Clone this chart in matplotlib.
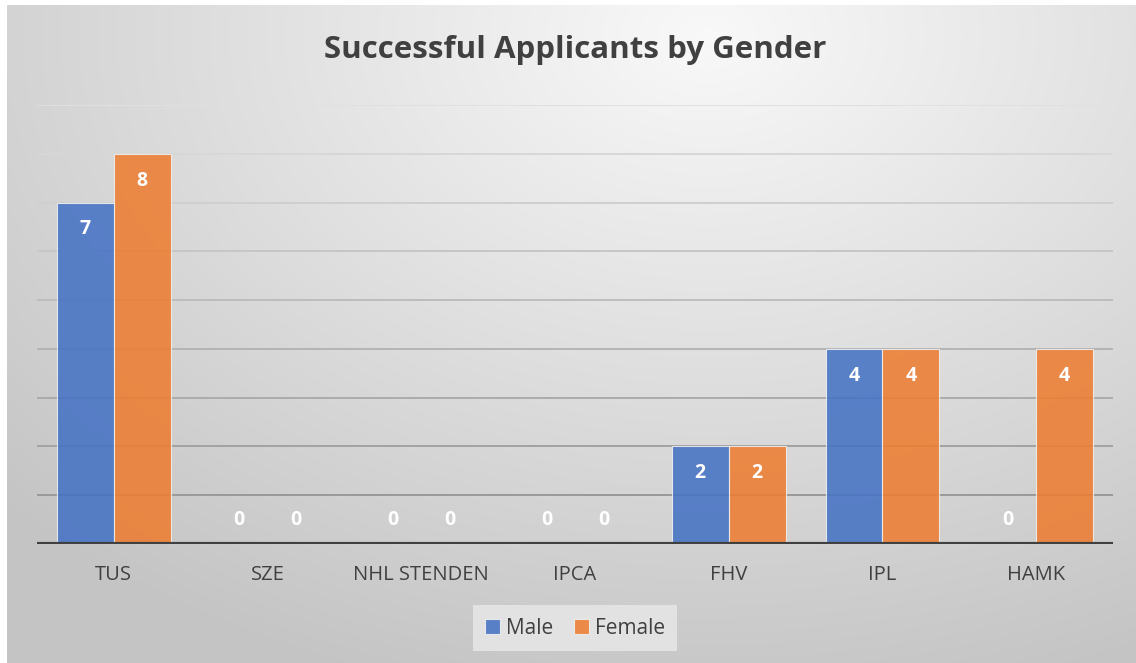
import numpy as np
import matplotlib.pyplot as plt

categories = ["TUS", "SZE", "NHL STENDEN", "IPCA", "FHV", "IPL", "HAMK"]
male = [7, 0, 0, 0, 2, 4, 0]
female = [8, 0, 0, 0, 2, 4, 4]
series_names = ["Male", "Female"]

blue = "#4472C4"
orange = "#ED7D31"
text_col = "#404040"

plt.rcParams['font.family'] = ['Open Sans', 'DejaVu Sans']

fig = plt.figure(figsize=(11.36, 6.63), dpi=100)
fig.patch.set_facecolor("white")

# radial gray background of the chart area
bg = fig.add_axes([7/1136, 0, 1 - 7/1136, 1 - 5/663])
bg.set_axis_off()
yy, xx = np.mgrid[0:658, 0:1129]
r = np.sqrt(((xx - 700) / 1000.0) ** 2 + ((yy - 30) / 700.0) ** 2)
shade = np.clip(0.975 - 0.21 * r, 0.77, 0.975)
bg.imshow(np.dstack([shade] * 3), aspect="auto", interpolation="bilinear")

ax = fig.add_axes([37/1136, 1 - 544/663, (1113 - 37)/1136, (544 - 105)/663])
ax.set_facecolor("none")
ax.set_zorder(2)

x = np.arange(len(categories))
w = 0.37
b1 = ax.bar(x - w/2, male, w, color=blue, alpha=0.87, edgecolor="#f0f0f0", linewidth=0.8, zorder=3)
b2 = ax.bar(x + w/2, female, w, color=orange, alpha=0.87, edgecolor="#f0f0f0", linewidth=0.8, zorder=3)

ax.set_ylim(0, 9)
ax.set_xlim(-0.5, len(categories) - 0.5)

# gridlines get darker towards the bottom
for v in range(1, 10):
    g = 0.88 - 0.035 * (9 - v)
    ax.axhline(v, color=(g, g, g), linewidth=1.4, zorder=1)

ax.axhline(0, color=text_col, linewidth=3, zorder=5)

for xs, vals in [(x - w/2, male), (x + w/2, female)]:
    for xi, v in zip(xs, vals):
        y = v - 0.55 if v > 0 else 0.5
        ax.text(xi, y, str(v), ha="center", va="center", color="white",
                fontsize=14, fontweight="bold", zorder=6)

for s in ax.spines.values():
    s.set_visible(False)
ax.set_yticks([])
ax.set_xticks(x)
ax.set_xticklabels(categories, fontsize=14.5, color=text_col)
ax.tick_params(axis="x", length=0, pad=15)

fig.text(575/1136, 1 - 50/663, "Successful Applicants by Gender", ha="center", va="center",
         fontsize=22.5, fontweight="bold", color=text_col)

leg = fig.legend([b1, b2], series_names, loc="center", bbox_to_anchor=(575/1136, 1 - 628/663),
                 ncol=2, frameon=True, fontsize=15, handlelength=0.7, handleheight=0.7,
                 handletextpad=0.3, columnspacing=1.0, borderpad=0.6, fancybox=False)
leg.get_frame().set_facecolor("#e2e2e2")
leg.get_frame().set_edgecolor("none")
leg.get_frame().set_alpha(1)
for t in leg.get_texts():
    t.set_color(text_col)

fig.savefig("out.png", dpi=100)
